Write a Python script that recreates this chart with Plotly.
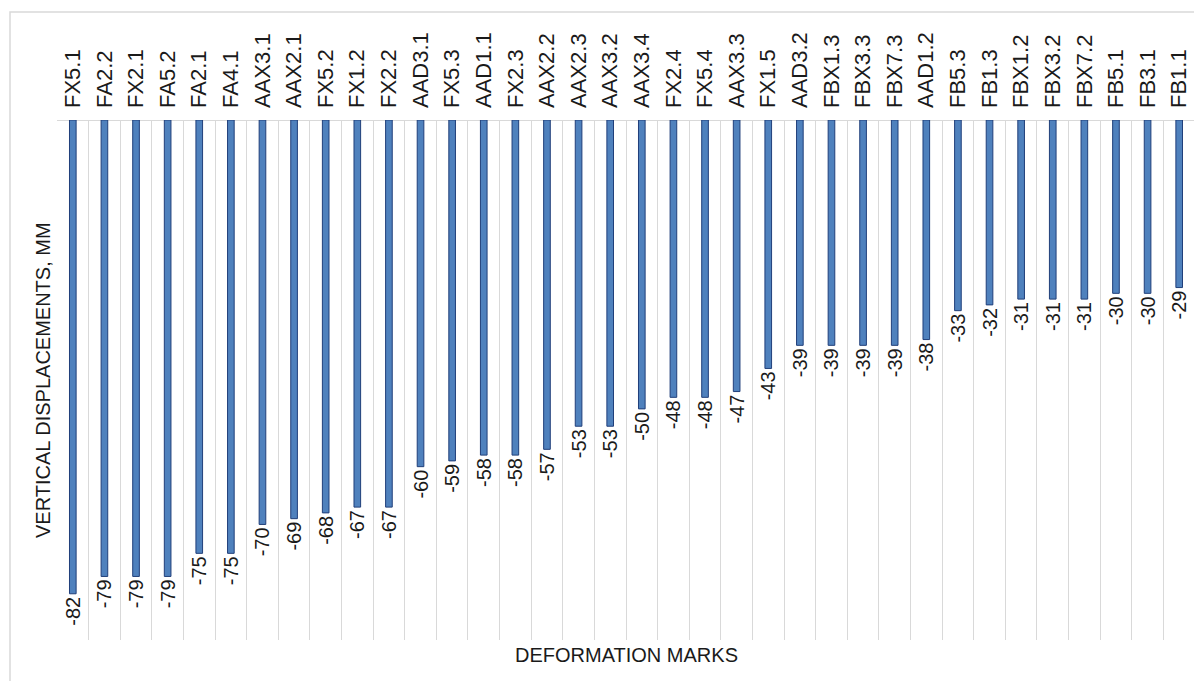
import plotly.graph_objects as go

marks = ["FX5.1", "FA2.2", "FX2.1", "FA5.2", "FA2.1", "FA4.1", "AAX3.1", "AAX2.1",
         "FX5.2", "FX1.2", "FX2.2", "AAD3.1", "FX5.3", "AAD1.1", "FX2.3", "AAX2.2",
         "AAX2.3", "AAX3.2", "AAX3.4", "FX2.4", "FX5.4", "AAX3.3", "FX1.5", "AAD3.2",
         "FBX1.3", "FBX3.3", "FBX7.3", "AAD1.2", "FB5.3", "FB1.3", "FBX1.2", "FBX3.2",
         "FBX7.2", "FB5.1", "FB3.1", "FB1.1"]
displacements = [-82, -79, -79, -79, -75, -75, -70, -69,
                 -68, -67, -67, -60, -59, -58, -58, -57,
                 -53, -53, -50, -48, -48, -47, -43, -39,
                 -39, -39, -39, -38, -33, -32, -31, -31,
                 -31, -30, -30, -29]
y_title = "VERTICAL DISPLACEMENTS, MM"
x_title = "DEFORMATION MARKS"

FONT = "Liberation Sans, Arial, sans-serif"
TXT = "#1a1a1a"

fig = go.Figure(go.Bar(
    x=marks, y=displacements, width=0.21,
    marker=dict(color="#4F81BD", line=dict(color="#203F7A", width=1)),
    text=[str(v) for v in displacements], textposition="outside", textangle=-90,
    textfont=dict(family=FONT, size=20, color=TXT), cliponaxis=False,
))

# page body has an 8px margin: figure placed at (8, 8) in the window
OFF = 8
W, H = 1202 - OFF, 681 - OFF
L, T = 57 - OFF, 120 - OFF
R = W - (1195 - OFF)
B = H - (640 - OFF)
pw, ph = W - L - R, H - T - B

fig.update_layout(
    width=W, height=H, margin=dict(l=L, r=R, t=T, b=B),
    paper_bgcolor="white", plot_bgcolor="white", showlegend=False,
    font=dict(family=FONT, color=TXT),
    uniformtext=dict(minsize=20, mode="show"),
    xaxis=dict(side="top", tickangle=-90, tickson="boundaries", showgrid=True,
               gridcolor="#D9D9D9", gridwidth=1, ticks="", showline=False,
               tickfont=dict(family=FONT, size=22, color=TXT),
               ticklabelstandoff=11, range=[-0.5, len(marks) - 0.5]),
    yaxis=dict(range=[-90, 0], showticklabels=False, showgrid=False,
               zeroline=True, zerolinecolor="#D9D9D9", zerolinewidth=1, ticks=""),
    annotations=[
        dict(text=x_title, xref="paper", yref="paper", x=0.5, y=-(655 - 640) / ph,
             yanchor="middle", showarrow=False, font=dict(family=FONT, size=20, color=TXT)),
        dict(text=y_title, xref="paper", yref="paper", x=(43 - 57) / pw, y=0.5,
             xanchor="center", textangle=-90, showarrow=False,
             font=dict(family=FONT, size=20, color=TXT)),
    ],
    shapes=[
        dict(type="rect", xref="paper", yref="paper",
             x0=(10 - 57) / pw, x1=(1202 + 20 - 57) / pw,
             y0=-(681 + 20 - 640) / ph, y1=1 + (120 - 12) / ph,
             line=dict(color="#D9D9D9", width=1.5), layer="below"),
    ],
)

fig.write_html("out.html")
